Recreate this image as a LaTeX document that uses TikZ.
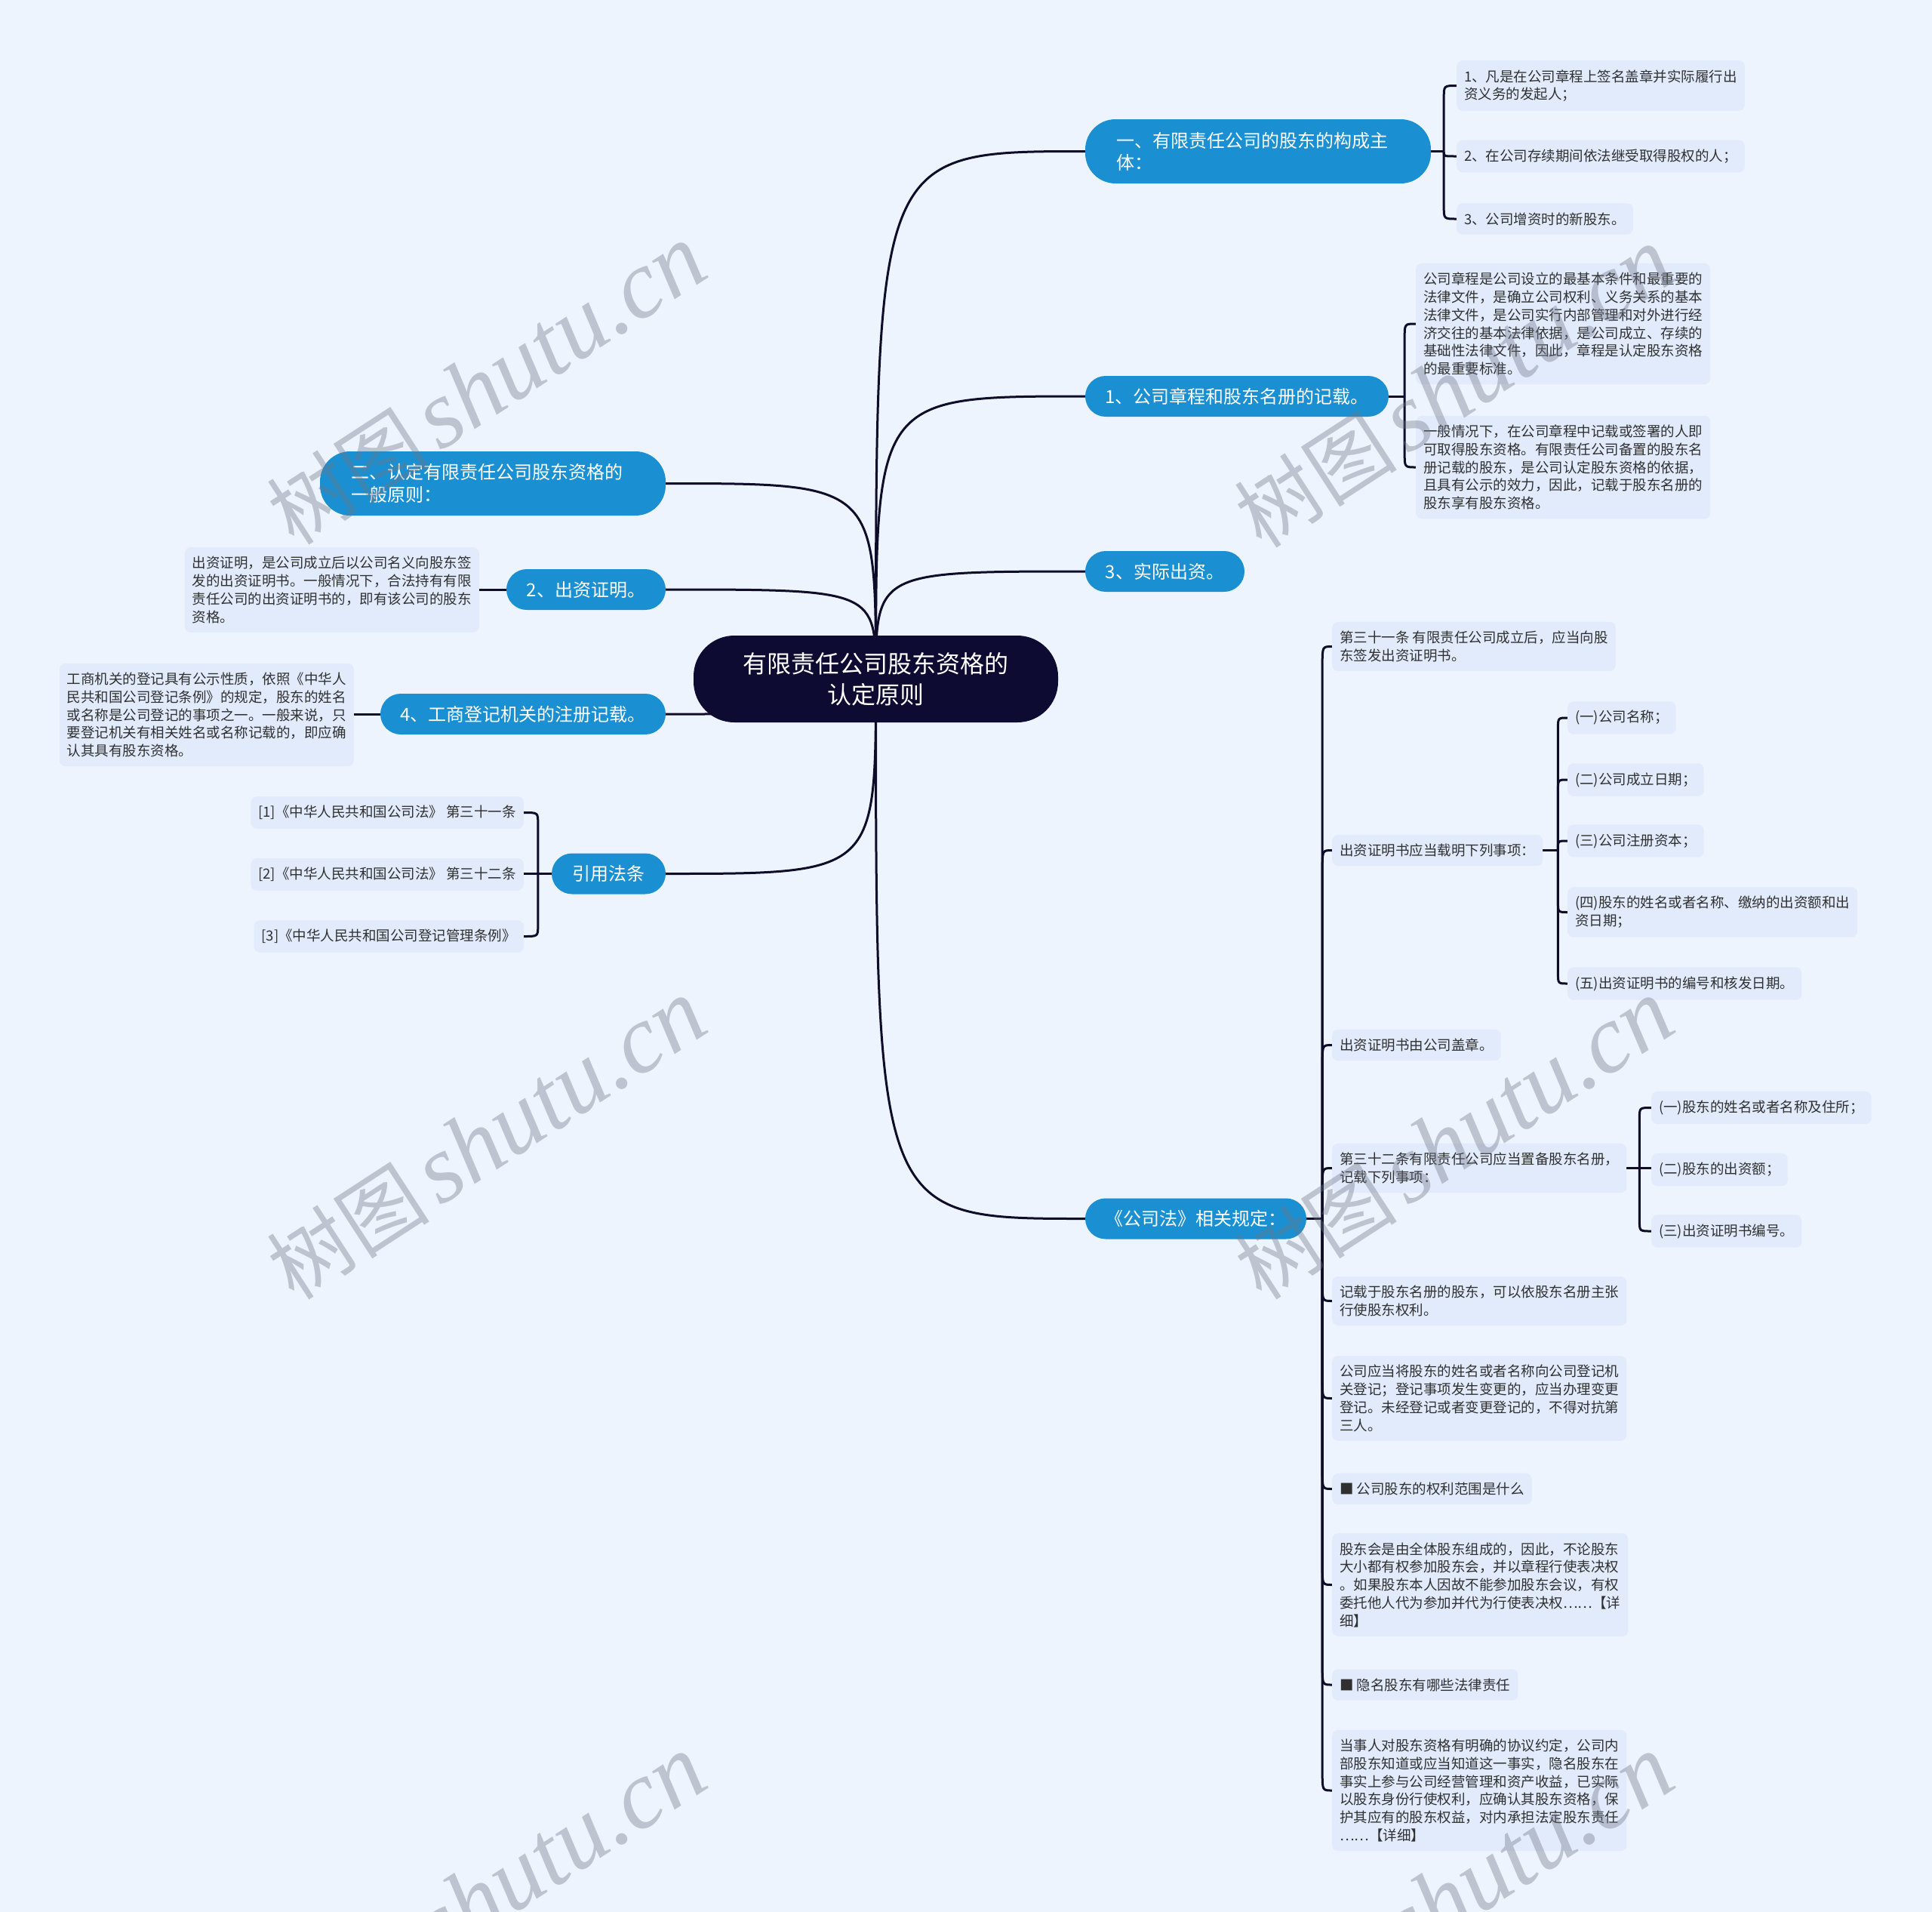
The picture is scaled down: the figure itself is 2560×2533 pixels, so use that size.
\documentclass[tikz,border=0pt]{standalone}
\usepackage{fontspec}
\setmainfont{Noto Sans CJK SC}
\newfontfamily\wmserif{Liberation Serif}
\usetikzlibrary{calc}
\definecolor{bgc}{RGB}{238,244,254}
\definecolor{leafc}{RGB}{225,235,252}
\definecolor{branchc}{RGB}{26,144,210}
\definecolor{rootc}{RGB}{13,11,50}
\definecolor{linec}{RGB}{14,12,40}
\definecolor{txtc}{RGB}{48,48,48}
\definecolor{wmc}{RGB}{110,116,132}
\pgfdeclarelayer{bgl}
\pgfdeclarelayer{edges}
\pgfdeclarelayer{fgl}
\pgfsetlayers{bgl,edges,main,fgl}
\tikzset{
  leaf/.style={fill=leafc, rounded corners=8pt, text=txtc, align=left, inner xsep=10pt, inner ysep=12pt, font=\fontsize{18.5}{23.8}\selectfont},
  branch/.style={fill=branchc, rounded corners=27pt, text=white, font=\fontsize{24}{29.4}\selectfont, minimum height=54pt, inner sep=0pt},
  branchtwo/.style={branch, rounded corners=40pt, minimum height=85pt, minimum width=458pt, align=left, text width=376pt},
  rootnode/.style={fill=rootc, rounded corners=54pt, text=white, font=\fontsize{32}{41}\selectfont, align=center, minimum width=483pt, minimum height=115pt, inner sep=0pt},
  conn/.style={draw=linec, line width=3pt},
  wm/.style={text=wmc, text opacity=0.38, rotate=33, inner sep=0pt}
}
\newcommand\brkR[3]{\draw[conn] (#1) -- ($(#1 |- #2.west)!#3!(#1)$) .. controls (#1 |- #2.west) .. (#2.west);}
\newcommand\brkL[3]{\draw[conn] (#1) -- ($(#1 |- #2.east)!#3!(#1)$) .. controls (#1 |- #2.east) .. (#2.east);}
\newcommand\wmtext{{\fontsize{108}{108}\selectfont 树图}\hspace{14pt}{\wmserif\itshape\fontsize{128}{128}\selectfont shutu.cn}}
\begin{document}
\begin{tikzpicture}[x=1pt,y=-1pt]
\useasboundingbox (0,0) rectangle (2560,2533);
\begin{pgfonlayer}{bgl}
\fill[bgc] (0,0) rectangle (2560,2533);
\end{pgfonlayer}

% root
\node[rootnode] (root) at (1160.5,899.5) {有限责任公司股东资格的\\认定原则};

% right branches
\node[branchtwo] (r1) at (1667,200.5) {一、有限责任公司的股东的构成主\\体：};
\node[branch, minimum width=402pt] (r2) at (1639,525) {1、公司章程和股东名册的记载。};
\node[branch, minimum width=211pt] (r3) at (1543.5,757) {3、实际出资。};
\node[branch, minimum width=293pt] (r4) at (1584.5,1614.5) {《公司法》相关规定：};

% left branches
\node[branchtwo] (l1) at (653,640.5) {二、认定有限责任公司股东资格的\\一般原则：};
\node[branch, minimum width=211pt] (l2) at (776.5,781) {2、出资证明。};
\node[branch, minimum width=378pt] (l3) at (693,946) {4、工商登记机关的注册记载。};
\node[branch, minimum width=151pt] (l4) at (806.5,1157.5) {引用法条};

% leaves of r1
\node[leaf, anchor=west] (a1) at (1930,113.5) {1、凡是在公司章程上签名盖章并实际履行出\\资义务的发起人；};
\node[leaf, anchor=west] (a2) at (1930,207) {2、在公司存续期间依法继受取得股权的人；};
\node[leaf, anchor=west] (a3) at (1930,290) {3、公司增资时的新股东。};

% leaves of r2
\node[leaf, anchor=west] (b1) at (1876,429) {公司章程是公司设立的最基本条件和最重要的\\法律文件，是确立公司权利、义务关系的基本\\法律文件，是公司实行内部管理和对外进行经\\济交往的基本法律依据，是公司成立、存续的\\基础性法律文件，因此，章程是认定股东资格\\的最重要标准。};
\node[leaf, anchor=west] (b2) at (1876,619) {一般情况下，在公司章程中记载或签署的人即\\可取得股东资格。有限责任公司备置的股东名\\册记载的股东，是公司认定股东资格的依据，\\且具有公示的效力，因此，记载于股东名册的\\股东享有股东资格。};

% left leaves
\node[leaf, anchor=east] (c1) at (635,781.5) {出资证明，是公司成立后以公司名义向股东签\\发的出资证明书。一般情况下，合法持有有限\\责任公司的出资证明书的，即有该公司的股东\\资格。};
\node[leaf, anchor=east] (d1) at (469,947) {工商机关的登记具有公示性质，依照《中华人\\民共和国公司登记条例》的规定，股东的姓名\\或名称是公司登记的事项之一。一般来说，只\\要登记机关有相关姓名或名称记载的，即应确\\认其具有股东资格。};
\node[leaf, anchor=east] (e1) at (694,1076.5) {[1]《中华人民共和国公司法》 第三十一条};
\node[leaf, anchor=east] (e2) at (694,1158.5) {[2]《中华人民共和国公司法》 第三十二条};
\node[leaf, anchor=east] (e3) at (694,1240.5) {[3]《中华人民共和国公司登记管理条例》};

% leaves of r4
\node[leaf, anchor=west] (f1) at (1765,856.5) {第三十一条 有限责任公司成立后，应当向股\\东签发出资证明书。};
\node[leaf, anchor=west] (f2) at (1765,1126.5) {出资证明书应当载明下列事项：};
\node[leaf, anchor=west] (g1) at (2077,951) {(一)公司名称；};
\node[leaf, anchor=west] (g2) at (2077,1033) {(二)公司成立日期；};
\node[leaf, anchor=west] (g3) at (2077,1114) {(三)公司注册资本；};
\node[leaf, anchor=west] (g4) at (2077,1208.5) {(四)股东的姓名或者名称、缴纳的出资额和出\\资日期；};
\node[leaf, anchor=west] (g5) at (2077,1303) {(五)出资证明书的编号和核发日期。};
\node[leaf, anchor=west] (f3) at (1765,1384.5) {出资证明书由公司盖章。};
\node[leaf, anchor=west] (f4) at (1765,1547.5) {第三十二条有限责任公司应当置备股东名册，\\记载下列事项：};
\node[leaf, anchor=west] (h1) at (2188,1467.5) {(一)股东的姓名或者名称及住所；};
\node[leaf, anchor=west] (h2) at (2188,1549.5) {(二)股东的出资额；};
\node[leaf, anchor=west] (h3) at (2188,1631) {(三)出资证明书编号。};
\node[leaf, anchor=west] (f5) at (1765,1723.5) {记载于股东名册的股东，可以依股东名册主张\\行使股东权利。};
\node[leaf, anchor=west] (f6) at (1765,1852.5) {公司应当将股东的姓名或者名称向公司登记机\\关登记；登记事项发生变更的，应当办理变更\\登记。未经登记或者变更登记的，不得对抗第\\三人。};
\node[leaf, anchor=west] (f7) at (1765,1972.5) {■ 公司股东的权利范围是什么};
\node[leaf, anchor=west] (f8) at (1765,2099.5) {股东会是由全体股东组成的，因此，不论股东\\大小都有权参加股东会，并以章程行使表决权\\。如果股东本人因故不能参加股东会议，有权\\委托他人代为参加并代为行使表决权……【详\\细】};
\node[leaf, anchor=west] (f9) at (1765,2232) {■ 隐名股东有哪些法律责任};
\node[leaf, anchor=west] (f10) at (1765,2372) {当事人对股东资格有明确的协议约定，公司内\\部股东知道或应当知道这一事实，隐名股东在\\事实上参与公司经营管理和资产收益，已实际\\以股东身份行使权利，应确认其股东资格，保\\护其应有的股东权益，对内承担法定股东责任\\……【详细】};

\begin{pgfonlayer}{edges}
% root to branches
\foreach \r in {r1,r2,r3,r4}{
  \draw[conn] (root.center) .. controls (root.center |- \r.west) .. (\r.west);
}
\foreach \l in {l1,l2,l3,l4}{
  \draw[conn] (root.center) .. controls (root.center |- \l.east) .. (\l.east);
}

% r1 bracket
\coordinate (jr1) at ($(r1.east)+(17,0)$);
\draw[conn] (r1.east) -- (jr1);
\brkR{jr1}{a1}{16pt}
\brkR{jr1}{a2}{5pt}
\brkR{jr1}{a3}{16pt}

% r2 bracket
\coordinate (jr2) at ($(r2.east)+(21,0)$);
\draw[conn] (r2.east) -- (jr2);
\brkR{jr2}{b1}{18pt}
\brkR{jr2}{b2}{18pt}

% r4 main bracket
\coordinate (jr4) at ($(r4.east)+(21,0)$);
\draw[conn] (r4.east) -- (jr4);
\foreach \f in {f1,f2,f3,f4,f5,f6,f7,f8,f9,f10}{
  \brkR{jr4}{\f}{24pt}
}

% f2 bracket
\coordinate (jf2) at ($(f2.east)+(20,0)$);
\draw[conn] (f2.east) -- (jf2);
\foreach \g in {g1,g2,g4,g5}{
  \brkR{jf2}{\g}{14pt}
}
\brkR{jf2}{g3}{9pt}

% f4 bracket
\coordinate (jf4) at ($(f4.east)+(17,0)$);
\draw[conn] (f4.east) -- (jf4);
\brkR{jf4}{h1}{14pt}
\draw[conn] (jf4) -- (jf4 -| h2.west);
\brkR{jf4}{h3}{14pt}

% left leaves
\draw[conn] (l2.west) -- (l2.west -| c1.east);
\draw[conn] (l3.west) -- (l3.west -| d1.east);
\coordinate (jl4) at ($(l4.west)+(-18,0)$);
\draw[conn] (l4.west) -- (jl4);
\brkL{jl4}{e1}{14pt}
\draw[conn] (jl4) -- (jl4 -| e2.east);
\brkL{jl4}{e3}{14pt}
\end{pgfonlayer}

\begin{pgfonlayer}{fgl}
\node[wm] (w1) at (645,510) {\wmtext};
\node[wm] (w2) at (1927,514) {\wmtext};
\node[wm] (w3) at (645,1510) {\wmtext};
\node[wm] (w4) at (1927,1510) {\wmtext};
\node[wm] (w5) at (645,2511) {\wmtext};
\node[wm] (w6) at (1927,2511) {\wmtext};
\end{pgfonlayer}
\end{tikzpicture}
\end{document}
